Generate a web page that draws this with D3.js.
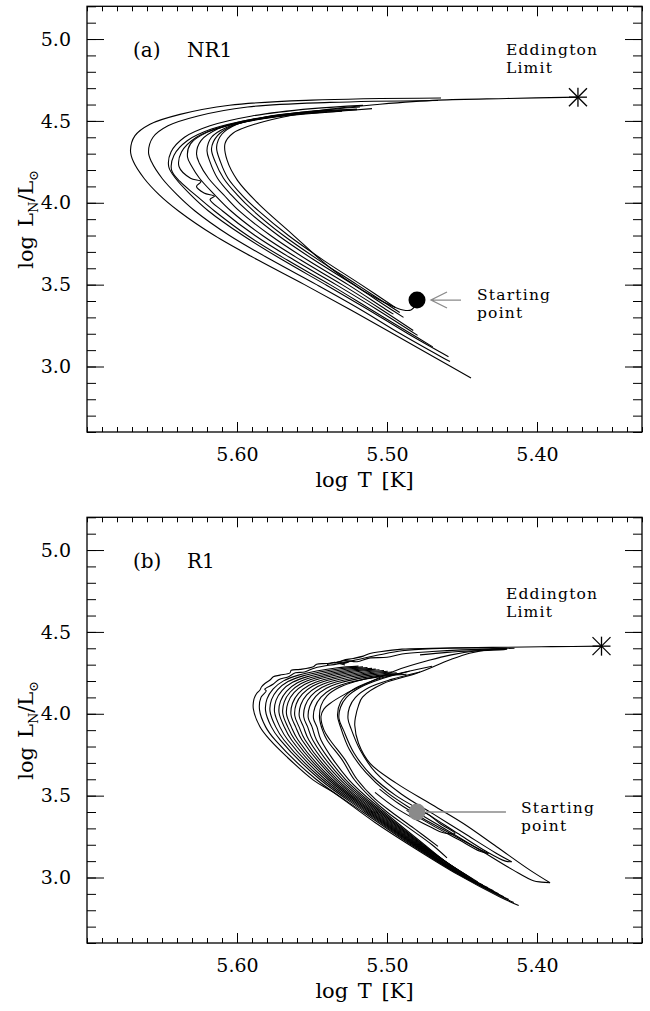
<!DOCTYPE html>
<html>
<head>
<meta charset="utf-8">
<script src="https://cdn.jsdelivr.net/npm/d3@7"></script>
<style>
  body { margin: 0; background: #fff; }
  svg { display: block; }
  text { font-family: "DejaVu Serif", serif; fill: #000; }
</style>
</head>
<body>
<div id="chart"></div>
<script>
// axes (log T runs backwards, hot on the left)
const xDomain = [5.70, 5.33];
const yDomain = [2.6, 5.2];
const xMajor = [5.60, 5.50, 5.40];
const xTickLabels = ["5.60", "5.50", "5.40"];
const yMajor = [3.0, 3.5, 4.0, 4.5, 5.0];
const yTickLabels = ["3.0", "3.5", "4.0", "4.5", "5.0"];

// markers [log T, log L]
const nr1Start = [5.480, 3.406];
const nr1Eddington = [5.3727, 4.645];
const r1Start = [5.480, 3.400];
const r1Eddington = [5.357, 4.413];

// (a) NR1 tracks, outermost loop first
const nr1Loop1 = [[5.444,2.93],[5.469,3.06],[5.496,3.20],[5.525,3.35],[5.555,3.50],[5.586,3.65],[5.615,3.80],[5.639,3.95],[5.652,4.05],[5.662,4.15],[5.669,4.25],[5.671,4.32],[5.668,4.41],[5.658,4.48],[5.638,4.54],[5.605,4.596],[5.55,4.627],[5.464,4.64]];
const nr1Loop2 = [[5.458,3.03],[5.464,3.06],[5.491,3.20],[5.518,3.35],[5.547,3.50],[5.577,3.65],[5.605,3.80],[5.628,3.95],[5.640,4.05],[5.650,4.15],[5.657,4.25],[5.659,4.31],[5.656,4.40],[5.646,4.47],[5.626,4.53],[5.593,4.585],[5.538,4.613],[5.466,4.625]];
const nr1Loop3 = [[5.459,3.06],[5.486,3.20],[5.513,3.35],[5.541,3.50],[5.5695,3.65],[5.596,3.80],[5.619,3.95],[5.631,4.05],[5.641,4.15],[5.6455,4.22],[5.644,4.31],[5.635,4.40],[5.618,4.47],[5.59,4.53],[5.55,4.575],[5.516,4.595]];
const nr1Loop4 = [[5.4695,3.12],[5.484,3.20],[5.511,3.35],[5.538,3.50],[5.5665,3.65],[5.593,3.80],[5.615,3.95],[5.628,4.05],[5.638,4.13],[5.6436,4.20],[5.642,4.29],[5.633,4.38],[5.617,4.45],[5.59,4.51],[5.55,4.56],[5.518,4.585]];
const nr1Loop5 = [[5.4796,3.19],[5.507,3.35],[5.534,3.50],[5.562,3.65],[5.588,3.80],[5.6096,3.95],[5.618,4.02],[5.615,4.04],[5.622,4.06],[5.627,4.10],[5.624,4.13],[5.631,4.15],[5.6386,4.22],[5.637,4.31],[5.627,4.40],[5.608,4.47],[5.58,4.52],[5.559,4.547]];
const nr1Loop6 = [[5.4825,3.22],[5.504,3.35],[5.530,3.50],[5.5575,3.65],[5.583,3.80],[5.604,3.95],[5.615,4.05],[5.625,4.15],[5.630,4.22],[5.633,4.28],[5.631,4.36],[5.620,4.43],[5.600,4.485],[5.573,4.525],[5.54,4.553],[5.51,4.575]];
const nr1Loop7 = [[5.4957,3.32],[5.501,3.35],[5.526,3.50],[5.553,3.65],[5.5776,3.80],[5.5985,3.95],[5.609,4.05],[5.619,4.15],[5.625,4.24],[5.627,4.30],[5.624,4.38],[5.613,4.45],[5.595,4.50],[5.568,4.535],[5.54,4.555]];
const nr1Loop8 = [[5.489,3.30],[5.4975,3.35],[5.5225,3.50],[5.5485,3.65],[5.5725,3.80],[5.593,3.95],[5.604,4.05],[5.613,4.15],[5.618,4.25],[5.620,4.32],[5.617,4.40],[5.607,4.46],[5.589,4.505],[5.562,4.54],[5.53,4.56]];
const nr1Loop9 = [[5.4915,3.33],[5.520,3.50],[5.5455,3.65],[5.569,3.80],[5.589,3.95],[5.600,4.05],[5.609,4.15],[5.6145,4.25],[5.617,4.33],[5.613,4.41],[5.603,4.47],[5.585,4.515],[5.56,4.548],[5.52,4.568]];
const nr1Loop10 = [[5.4945,3.36],[5.5173,3.50],[5.5425,3.65],[5.5657,3.80],[5.5856,3.95],[5.597,4.05],[5.606,4.15],[5.611,4.25],[5.6136,4.34],[5.610,4.42],[5.60,4.48],[5.582,4.522],[5.557,4.552],[5.52,4.572]];
const nr1Loop11 = [[5.4813,3.37],[5.484,3.345],[5.4893,3.345],[5.498,3.375],[5.5163,3.466],[5.5386,3.608],[5.5636,3.812],[5.5858,3.995],[5.5997,4.137],[5.6066,4.26],[5.608,4.361],[5.6027,4.425],[5.586,4.486],[5.5633,4.535],[5.538,4.572],[5.5047,4.602],[5.466,4.627],[5.42,4.637],[5.3727,4.645]];

// (b) R1 tracks: main bundle
const r1Loop1 = [[5.4122,2.829],[5.4247,2.881],[5.4524,3.016],[5.4802,3.171],[5.508,3.336],[5.5358,3.52],[5.5491,3.595],[5.5669,3.738],[5.578,3.84],[5.5847,3.921],[5.5891,4.03],[5.5887,4.09],[5.5869,4.124],[5.5847,4.145],[5.5836,4.165],[5.5814,4.185],[5.578,4.206],[5.5758,4.226],[5.5714,4.236],[5.5647,4.25],[5.5638,4.266],[5.558,4.271],[5.5491,4.287],[5.5469,4.303],[5.5402,4.307],[5.5314,4.317],[5.5291,4.327],[5.5225,4.338],[5.5158,4.352],[5.5114,4.368],[5.5047,4.379],[5.49,4.395],[5.47,4.40],[5.44,4.405],[5.42,4.406],[5.39,4.41],[5.357,4.413]];
const r1Loop2 = [[5.4155,2.847],[5.4484,3.0],[5.484,3.2],[5.5161,3.4],[5.5473,3.6],[5.5746,3.84],[5.5809,3.92],[5.585,4.0255],[5.584,4.10],[5.5805,4.14],[5.5815,4.15],[5.576,4.18],[5.572,4.21],[5.566,4.225],[5.561,4.25],[5.555,4.255],[5.548,4.28],[5.533,4.305],[5.52,4.33],[5.505,4.36],[5.49,4.385],[5.47,4.398],[5.44,4.402],[5.42,4.40]];
const r1Loop3 = [[5.4188,2.865],[5.4478,3.0],[5.483,3.2],[5.5145,3.4],[5.5449,3.6],[5.5712,3.84],[5.5771,3.92],[5.581,4.021],[5.580,4.091],[5.576,4.151],[5.569,4.201],[5.559,4.236],[5.547,4.261],[5.533,4.281],[5.519,4.291]];
const r1Loop4 = [[5.4222,2.883],[5.4474,3.0],[5.4822,3.2],[5.5133,3.4],[5.5431,3.6],[5.5687,3.84],[5.5742,3.92],[5.578,4.0165],[5.577,4.0865],[5.573,4.1465],[5.566,4.1965],[5.556,4.2315],[5.544,4.2565],[5.530,4.2765],[5.516,4.2865]];
const r1Loop5 = [[5.4256,2.901],[5.4469,3.0],[5.4815,3.2],[5.5121,3.4],[5.5413,3.6],[5.5661,3.84],[5.5714,3.92],[5.575,4.012],[5.574,4.082],[5.570,4.142],[5.563,4.192],[5.553,4.227],[5.541,4.252],[5.527,4.272],[5.513,4.282]];
const r1Loop6 = [[5.429,2.919],[5.4465,3.0],[5.4807,3.2],[5.5109,3.4],[5.5395,3.6],[5.5636,3.84],[5.5685,3.92],[5.572,4.0075],[5.571,4.0775],[5.567,4.1375],[5.560,4.1875],[5.550,4.2225],[5.538,4.2475],[5.524,4.2675],[5.510,4.2775]];
const r1Loop7 = [[5.4326,2.937],[5.4461,3.0],[5.4801,3.2],[5.5099,3.4],[5.538,3.6],[5.5614,3.84],[5.5662,3.92],[5.5695,4.003],[5.5685,4.073],[5.5645,4.133],[5.5575,4.183],[5.5475,4.218],[5.5355,4.243],[5.5215,4.263],[5.5075,4.273]];
const r1Loop8 = [[5.4361,2.955],[5.4457,3.0],[5.4795,3.2],[5.5089,3.4],[5.5365,3.6],[5.5593,3.84],[5.5638,3.92],[5.567,3.9985],[5.566,4.0685],[5.562,4.1285],[5.555,4.1785],[5.545,4.2135],[5.533,4.2385],[5.519,4.2585],[5.505,4.2685]];
const r1Loop9 = [[5.4395,2.973],[5.4788,3.2],[5.5077,3.4],[5.5347,3.6],[5.5567,3.84],[5.5609,3.92],[5.564,3.994],[5.563,4.064],[5.559,4.124],[5.552,4.174],[5.542,4.209],[5.530,4.234],[5.516,4.254],[5.502,4.264]];
const r1Loop10 = [[5.4431,2.991],[5.4781,3.2],[5.5067,3.4],[5.5332,3.6],[5.5546,3.84],[5.5586,3.92],[5.5615,3.9895],[5.5605,4.0595],[5.5565,4.1195],[5.5495,4.1695],[5.5395,4.2045],[5.5275,4.2295],[5.5135,4.2495],[5.4995,4.2595]];
const r1Loop11 = [[5.4464,3.009],[5.4774,3.2],[5.5055,3.4],[5.5314,3.6],[5.5521,3.84],[5.5557,3.92],[5.5585,3.985],[5.5575,4.055],[5.5535,4.115],[5.5465,4.165],[5.5365,4.20],[5.5245,4.225],[5.5105,4.245],[5.4965,4.255]];
const r1Loop12 = [[5.4499,3.027],[5.4766,3.2],[5.5043,3.4],[5.5296,3.6],[5.5495,3.84],[5.5529,3.92],[5.5555,3.9805],[5.5545,4.0505],[5.5505,4.1105],[5.5435,4.1605],[5.5335,4.1955],[5.5215,4.2205],[5.5075,4.2405],[5.4935,4.2505]];
const r1Loop13 = [[5.4533,3.045],[5.4759,3.2],[5.5031,3.4],[5.5278,3.6],[5.547,3.84],[5.55,3.92],[5.5525,3.976],[5.5515,4.046],[5.5475,4.106],[5.5405,4.156],[5.5305,4.191],[5.5185,4.216],[5.5045,4.236],[5.4905,4.246]];
const r1Loop14 = [[5.4567,3.063],[5.475,3.2],[5.5017,3.4],[5.5257,3.6],[5.544,3.84],[5.5467,3.92],[5.549,3.9715],[5.548,4.0415],[5.544,4.1015],[5.537,4.1515],[5.527,4.1865],[5.515,4.2115],[5.501,4.2315],[5.487,4.2415]];
const r1Loop15 = [[5.46,3.12],[5.47,3.20],[5.485,3.30],[5.50,3.40],[5.51,3.48],[5.522,3.60],[5.530,3.72],[5.540,3.84],[5.543,3.90],[5.545,3.975],[5.544,4.05],[5.540,4.11],[5.532,4.16],[5.52,4.20],[5.505,4.23],[5.49,4.245]];
const r1Loop16 = [[5.466,3.19],[5.482,3.30],[5.497,3.40],[5.508,3.48],[5.520,3.60],[5.528,3.72],[5.538,3.84],[5.542,3.90],[5.544,3.985],[5.542,4.03],[5.538,4.063],[5.528,4.12],[5.5158,4.175],[5.4936,4.266],[5.4713,4.328],[5.458,4.358],[5.44,4.385],[5.42,4.398]];
// (b) inner hairpins reaching to the lower right
const r1Pin1 = [[5.3913,2.968],[5.4047,3.045],[5.4269,3.188],[5.4491,3.33],[5.4713,3.452],[5.4936,3.575],[5.5113,3.697],[5.519,3.82],[5.5215,3.93],[5.521,3.98],[5.519,4.05],[5.5163,4.102],[5.5024,4.185],[5.4802,4.247],[5.458,4.33],[5.445,4.37],[5.43,4.395],[5.415,4.40]];
const r1Pin2 = [[5.3913,2.968],[5.397,2.972],[5.4024,2.98],[5.4158,3.045],[5.438,3.168],[5.4602,3.29],[5.4824,3.412],[5.50,3.52],[5.514,3.64],[5.525,3.78],[5.531,3.92],[5.533,3.99],[5.531,4.07],[5.524,4.14],[5.51,4.20],[5.49,4.25],[5.47,4.29]];
const r1Pin3 = [[5.4169,3.096],[5.4275,3.15],[5.4485,3.27],[5.4695,3.39],[5.4905,3.51],[5.5075,3.64],[5.518,3.78],[5.524,3.91],[5.526,3.97],[5.525,4.04],[5.521,4.10],[5.512,4.16],[5.497,4.21],[5.478,4.255]];
const r1Pin4 = [[5.4169,3.096],[5.421,3.10],[5.434,3.16],[5.453,3.27],[5.4735,3.39],[5.494,3.50],[5.51,3.62],[5.522,3.76],[5.529,3.90],[5.532,3.97],[5.531,4.04],[5.527,4.10],[5.518,4.16],[5.503,4.215],[5.485,4.26]];
const r1Pin5 = [[5.4324,3.147],[5.442,3.19],[5.458,3.27],[5.476,3.36],[5.492,3.45],[5.505,3.54]];
const r1Pin6 = [[5.4324,3.147],[5.438,3.16],[5.452,3.23],[5.47,3.32],[5.487,3.41]];
const r1StartHook = [[5.4798,3.402],[5.4736,3.391],[5.4647,3.33],[5.4547,3.269],[5.4624,3.273],[5.4713,3.31],[5.4802,3.351],[5.495,3.43],[5.508,3.52]];
// (b) small loops along the top
const r1TopLoop = [[5.535,4.31],[5.528,4.325],[5.52,4.318],[5.512,4.34],[5.5,4.345],[5.49,4.365],[5.47,4.38],[5.45,4.39],[5.43,4.395],[5.42,4.392],[5.44,4.385],[5.46,4.375],[5.478,4.36]];
const r1Knot = [[5.54,4.30],[5.535,4.315],[5.53,4.305],[5.525,4.318],[5.532,4.31],[5.528,4.298]];

const nr1Tracks = [nr1Loop1, nr1Loop2, nr1Loop3, nr1Loop4, nr1Loop5, nr1Loop6,
                   nr1Loop7, nr1Loop8, nr1Loop9, nr1Loop10, nr1Loop11];
const r1Tracks = [r1Loop1, r1Loop2, r1Loop3, r1Loop4, r1Loop5, r1Loop6, r1Loop7, r1Loop8,
                  r1Loop9, r1Loop10, r1Loop11, r1Loop12, r1Loop13, r1Loop14, r1Loop15, r1Loop16,
                  r1Pin1, r1Pin2, r1Pin3, r1Pin4, r1Pin5, r1Pin6, r1StartHook, r1TopLoop, r1Knot];

var W = 650, H = 1011;
var left = 87, right = 642, plotH = 425.7;
var gray = "#8a8a8a";

var svg = d3.select("#chart").append("svg")
    .attr("width", W)
    .attr("height", H);

// tick labels etc. in the IDL-ish serif
function styleAxis(sel) {
    sel.select(".domain").remove();
    sel.selectAll("line").attr("stroke", "#000").attr("stroke-width", 1);
    sel.selectAll("text")
        .style("font-family", '"DejaVu Serif", serif')
        .style("font-size", "19px")
        .attr("fill", "#000");
}

// two stacked annotation lines
function twoLines(g, xPos, yPos, first, second) {
    [first, second].forEach(function(s, i) {
        g.append("text")
            .attr("x", xPos)
            .attr("y", yPos + i * 18)
            .style("font-size", "15.5px")
            .style("letter-spacing", "1.2px")
            .text(s);
    });
}

function drawPanel(top, tracks, start, startColor, edd, p) {
    var x = d3.scaleLinear().domain(xDomain).range([left, right]);
    var y = d3.scaleLinear().domain(yDomain).range([top + plotH, top]);
    var bottom = top + plotH;
    var xMinor = d3.range(533, 571).map(v => v / 100);
    var yMinor = d3.range(26, 53).map(v => v / 10);
    var g = svg.append("g");

    // tracks
    var line = d3.line()
        .x(d => x(d[0]))
        .y(d => y(d[1]))
        .curve(d3.curveCatmullRom.alpha(0.5));

    g.selectAll("path.track")
        .data(tracks)
        .enter()
        .append("path")
        .attr("class", "track")
        .attr("d", line)
        .attr("fill", "none")
        .attr("stroke", "#000")
        .attr("stroke-width", 1.1)
        .attr("stroke-linejoin", "round");

    // ticks on all four sides, pointing inwards
    g.append("g").attr("transform", `translate(0,${bottom})`)
        .call(d3.axisBottom(x).tickValues(xMinor).tickSize(-5).tickFormat(() => "")).call(styleAxis);
    g.append("g").attr("transform", `translate(0,${bottom})`)
        .call(d3.axisBottom(x).tickValues(xMajor).tickSize(-10).tickPadding(16)
            .tickFormat((d, i) => xTickLabels[i])).call(styleAxis);
    g.append("g").attr("transform", `translate(0,${top})`)
        .call(d3.axisTop(x).tickValues(xMinor).tickSize(-5).tickFormat(() => "")).call(styleAxis);
    g.append("g").attr("transform", `translate(0,${top})`)
        .call(d3.axisTop(x).tickValues(xMajor).tickSize(-10).tickFormat(() => "")).call(styleAxis);
    g.append("g").attr("transform", `translate(${left},0)`)
        .call(d3.axisLeft(y).tickValues(yMinor).tickSize(-9).tickFormat(() => "")).call(styleAxis);
    g.append("g").attr("transform", `translate(${left},0)`)
        .call(d3.axisLeft(y).tickValues(yMajor).tickSize(-17).tickPadding(16)
            .tickFormat((d, i) => yTickLabels[i])).call(styleAxis);
    g.append("g").attr("transform", `translate(${right},0)`)
        .call(d3.axisRight(y).tickValues(yMinor).tickSize(-9).tickFormat(() => "")).call(styleAxis);
    g.append("g").attr("transform", `translate(${right},0)`)
        .call(d3.axisRight(y).tickValues(yMajor).tickSize(-17).tickFormat(() => "")).call(styleAxis);

    // frame
    g.append("rect")
        .attr("x", left).attr("y", top)
        .attr("width", right - left).attr("height", plotH)
        .attr("fill", "none").attr("stroke", "#000").attr("stroke-width", 1.3);

    // axis titles
    g.append("text")
        .attr("x", (left + right) / 2).attr("y", top + 480.7)
        .attr("text-anchor", "middle")
        .style("font-size", "21px")
        .style("word-spacing", "3px")
        .text("log T [K]");

    var yt = g.append("text")
        .attr("transform", `translate(33,${top + 213}) rotate(-90)`)
        .attr("text-anchor", "middle")
        .style("font-size", "21px");
    yt.append("tspan").text("log");
    yt.append("tspan").attr("dx", 9).text("L");
    yt.append("tspan").attr("dy", 5).style("font-size", "13px").text("N");
    yt.append("tspan").attr("dy", -5).text("/L");
    yt.append("tspan").attr("dy", 5).style("font-size", "13px").text("\u2299");

    // panel tag
    g.append("text").attr("x", 133).attr("y", top + 50.7).style("font-size", "20px").text(p.tag);
    g.append("text").attr("x", 187).attr("y", top + 50.7).style("font-size", "20px").text(p.name);

    // Eddington limit asterisk
    var ex = x(edd[0]), ey = y(edd[1]);
    g.selectAll("line.star")
        .data([[-9, 0, 9, 0], [0, -9.5, 0, 9.5], [-9, -9, 9, 9], [-9, 9, 9, -9]])
        .enter().append("line")
        .attr("class", "star")
        .attr("x1", d => ex + d[0]).attr("y1", d => ey + d[1])
        .attr("x2", d => ex + d[2]).attr("y2", d => ey + d[3])
        .attr("stroke", "#000").attr("stroke-width", 1.3);

    twoLines(g, x(5.4207), y(p.eddY) - 1, "Eddington", "Limit");

    // starting point
    var sx = x(start[0]), sy = y(start[1]);
    g.append("circle").attr("cx", sx).attr("cy", sy).attr("r", 8.5).attr("fill", startColor);

    if (p.arrow) {
        var tip = sx + 14;
        g.append("path")
            .attr("d", `M${tip + 30},${sy}H${tip}M${tip + 16},${sy - 8}L${tip},${sy}L${tip + 16},${sy + 8}`)
            .attr("fill", "none").attr("stroke", gray).attr("stroke-width", 1.3);
    } else {
        g.append("line")
            .attr("x1", sx + 9).attr("x2", x(5.4207))
            .attr("y1", sy).attr("y2", sy)
            .attr("stroke", gray).attr("stroke-width", 1.6);
    }
    twoLines(g, x(p.startX), y(p.startY) - 2, "Starting", "point");
}

drawPanel(6.3, nr1Tracks, nr1Start, "#000", nr1Eddington,
    { tag: "(a)", name: "NR1", eddY: 4.8955, arrow: true, startX: 5.44, startY: 3.3937 });
drawPanel(517.3, r1Tracks, r1Start, gray, r1Eddington,
    { tag: "(b)", name: "R1", eddY: 4.694, arrow: false, startX: 5.4107, startY: 3.3814 });
</script>
</body>
</html>
